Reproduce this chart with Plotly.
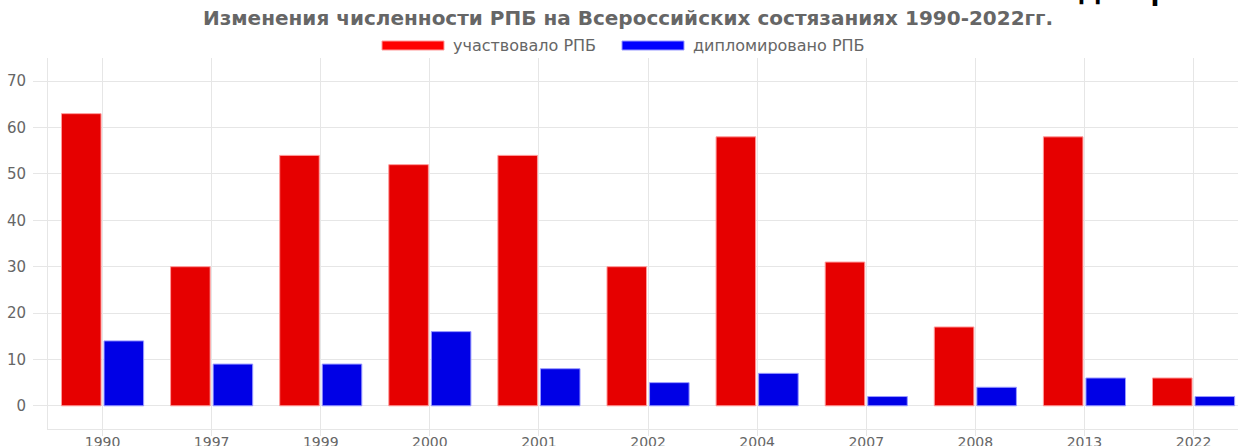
import plotly.graph_objects as go

years = ["1990", "1997", "1999", "2000", "2001", "2002", "2004", "2007", "2008", "2013", "2022"]
participated = [63, 30, 54, 52, 54, 30, 58, 31, 17, 58, 6]
awarded = [14, 9, 9, 16, 8, 5, 7, 2, 4, 6, 2]

name_participated = "участвовало РПБ"
name_awarded = "дипломировано РПБ"
title_text = "Изменения численности РПБ на Всероссийских состязаниях 1990-2022гг."

W, H = 1238, 446
ML, MR, MT, MB = 48, 0, 58, 17
PW, PH = W - ML - MR, H - MT - MB


def px(x):
    return (x - ML) / PW


def py(y):
    return (H - MB - y) / PH


FONT = "DejaVu Sans"
GRID = "#e6e6e6"
TXT = "#666666"

fig = go.Figure()
fig.add_trace(go.Bar(x=years, y=participated, name=name_participated,
                     marker=dict(color="#e60000", line=dict(color="#ff9a9a", width=1)),
                     showlegend=False))
fig.add_trace(go.Bar(x=years, y=awarded, name=name_awarded,
                     marker=dict(color="#0000e6", line=dict(color="#9a9aff", width=1)),
                     showlegend=False))

shapes = [
    dict(type="rect", xref="paper", yref="paper", x0=px(382), x1=px(444), y0=py(50), y1=py(41),
         fillcolor="#ff0000", line=dict(color="#ff9a9a", width=1)),
    dict(type="rect", xref="paper", yref="paper", x0=px(622), x1=px(684), y0=py(50), y1=py(41),
         fillcolor="#0000ff", line=dict(color="#9a9aff", width=1)),
]
annotations = [
    dict(text=name_participated, xref="paper", yref="paper", x=px(451), y=py(45.5),
         xanchor="left", yanchor="middle", showarrow=False, font=dict(family=FONT, size=16, color=TXT)),
    dict(text=name_awarded, xref="paper", yref="paper", x=px(691), y=py(45.5),
         xanchor="left", yanchor="middle", showarrow=False, font=dict(family=FONT, size=16, color=TXT)),
    dict(text="<b>Диаграмма</b>", xref="paper", yref="paper", x=px(1076), y=py(8),
         xanchor="left", yanchor="bottom", showarrow=False, font=dict(family=FONT, size=26, color="#000000")),
]

fig.update_layout(
    width=W, height=H,
    margin=dict(l=ML, r=MR, t=MT, b=MB, autoexpand=False),
    paper_bgcolor="white", plot_bgcolor="white",
    title=dict(text="<b>" + title_text + "</b>", x=px(628), xref="paper", xanchor="center",
               yref="container", y=1 - 18 / H, yanchor="middle",
               font=dict(family=FONT, size=20, color=TXT)),
    barmode="group", bargap=0.22, bargroupgap=0.07,
    shapes=shapes, annotations=annotations,
    xaxis=dict(type="category", range=[-0.5, -0.5 + PW / 109.1], showgrid=True, gridcolor=GRID,
               gridwidth=1, showline=True, linecolor=GRID, linewidth=1, automargin=False,
               ticks="outside", ticklen=6, tickcolor=GRID, ticklabelstandoff=-6,
               tickfont=dict(family=FONT, size=14, color=TXT)),
    yaxis=dict(range=[-5, 75], tick0=0, dtick=10, showgrid=True, gridcolor=GRID, gridwidth=1,
               zeroline=False, showline=True, linecolor=GRID, linewidth=1, automargin=False,
               ticks="outside", ticklen=14, tickcolor=GRID, ticklabelstandoff=4,
               tickfont=dict(family=FONT, size=15, color=TXT)),
)

fig.write_html("out.html", config={"displayModeBar": False},
               post_script="document.body.style.margin='0';document.body.style.overflow='hidden';")
